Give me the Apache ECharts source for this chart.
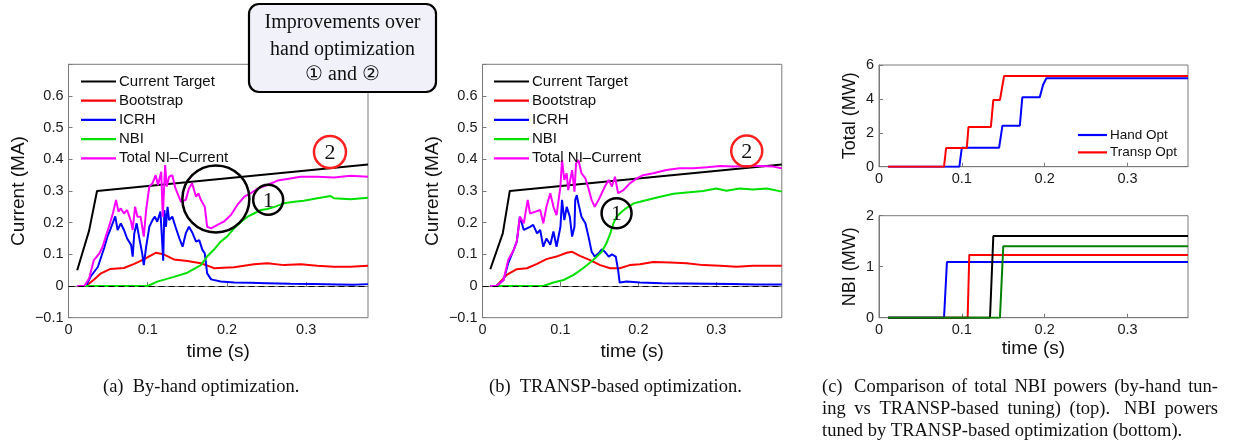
<!DOCTYPE html>
<html><head><meta charset="utf-8">
<script src="https://cdn.jsdelivr.net/npm/echarts@6/dist/echarts.min.js"></script>
<style>html,body{margin:0;padding:0;background:#fff}#c{width:1240px;height:442px}</style>
</head><body><div id="c"></div><script>
// ---------- Panel (a): by-hand optimization (time s, current MA) ----------
const aTarget = [[0.011,0.05],[0.026,0.175],[0.036,0.30],[0.378,0.384]];
const aBootstrap = [[0.011,0],[0.022,0],[0.032,0.02],[0.041,0.04],[0.053,0.054],[0.07,0.057],[0.083,0.07],[0.095,0.084],[0.11,0.105],[0.12,0.1],[0.133,0.084],[0.15,0.079],[0.167,0.072],[0.178,0.062],[0.184,0.056],[0.195,0.058],[0.209,0.059],[0.234,0.069],[0.251,0.072],[0.272,0.066],[0.293,0.069],[0.314,0.064],[0.335,0.061],[0.356,0.061],[0.378,0.064]];
const aICRH = [[0.011,0],[0.022,0],[0.028,0.03],[0.037,0.06],[0.041,0.09],[0.045,0.12],[0.049,0.155],[0.053,0.18],[0.059,0.22],[0.062,0.177],[0.066,0.198],[0.07,0.177],[0.074,0.15],[0.079,0.13],[0.081,0.093],[0.083,0.166],[0.086,0.198],[0.089,0.156],[0.093,0.103],[0.095,0.066],[0.098,0.124],[0.102,0.187],[0.106,0.208],[0.109,0.219],[0.112,0.203],[0.116,0.235],[0.118,0.15],[0.1195,0.08],[0.121,0.24],[0.123,0.187],[0.125,0.25],[0.127,0.208],[0.131,0.219],[0.135,0.187],[0.14,0.15],[0.144,0.124],[0.148,0.166],[0.152,0.187],[0.156,0.17],[0.161,0.14],[0.165,0.145],[0.169,0.114],[0.172,0.103],[0.175,0.04],[0.18,0.021],[0.192,0.014],[0.209,0.011],[0.23,0.01],[0.25,0.009],[0.28,0.007],[0.31,0.006],[0.34,0.005],[0.36,0.004],[0.378,0.006]];
const aNBI = [[0.011,0],[0.1,0],[0.112,0.014],[0.133,0.029],[0.15,0.042],[0.167,0.066],[0.175,0.093],[0.184,0.116],[0.192,0.14],[0.2,0.156],[0.209,0.182],[0.218,0.203],[0.226,0.219],[0.234,0.229],[0.243,0.24],[0.251,0.243],[0.26,0.25],[0.272,0.261],[0.285,0.266],[0.297,0.269],[0.314,0.277],[0.331,0.284],[0.335,0.277],[0.356,0.274],[0.378,0.279]];
const aTotal = [[0.011,0],[0.02,0],[0.026,0.024],[0.032,0.082],[0.039,0.103],[0.043,0.124],[0.047,0.156],[0.051,0.187],[0.056,0.229],[0.06,0.272],[0.063,0.235],[0.066,0.245],[0.07,0.229],[0.074,0.24],[0.079,0.203],[0.081,0.177],[0.084,0.25],[0.087,0.219],[0.091,0.219],[0.095,0.156],[0.098,0.24],[0.102,0.314],[0.106,0.324],[0.11,0.35],[0.113,0.319],[0.117,0.361],[0.119,0.219],[0.122,0.382],[0.124,0.314],[0.127,0.345],[0.131,0.35],[0.135,0.308],[0.142,0.266],[0.148,0.272],[0.152,0.308],[0.156,0.324],[0.161,0.282],[0.164,0.293],[0.167,0.272],[0.172,0.25],[0.175,0.187],[0.18,0.182],[0.188,0.193],[0.196,0.203],[0.205,0.224],[0.213,0.256],[0.222,0.282],[0.23,0.293],[0.239,0.308],[0.251,0.319],[0.264,0.333],[0.276,0.338],[0.293,0.345],[0.314,0.345],[0.335,0.343],[0.356,0.348],[0.378,0.345]];

// ---------- Panel (b): TRANSP-based optimization ----------
const bTarget = [[0.01,0.053],[0.026,0.166],[0.035,0.30],[0.384,0.384]];
const bBootstrap = [[0.01,0],[0.018,0],[0.031,0.035],[0.044,0.053],[0.057,0.056],[0.07,0.07],[0.082,0.085],[0.095,0.093],[0.108,0.105],[0.115,0.108],[0.125,0.095],[0.138,0.082],[0.151,0.066],[0.164,0.056],[0.176,0.056],[0.189,0.066],[0.202,0.069],[0.219,0.076],[0.241,0.074],[0.262,0.072],[0.283,0.066],[0.305,0.064],[0.326,0.061],[0.347,0.064],[0.384,0.064]];
const bICRH = [[0.01,0],[0.018,0],[0.027,0.019],[0.033,0.072],[0.04,0.114],[0.044,0.14],[0.048,0.219],[0.053,0.177],[0.057,0.182],[0.061,0.187],[0.065,0.193],[0.07,0.166],[0.074,0.177],[0.078,0.124],[0.082,0.15],[0.087,0.13],[0.091,0.172],[0.095,0.124],[0.1,0.187],[0.102,0.272],[0.105,0.208],[0.108,0.25],[0.112,0.219],[0.115,0.156],[0.118,0.187],[0.119,0.272],[0.121,0.287],[0.123,0.261],[0.127,0.219],[0.132,0.198],[0.136,0.156],[0.14,0.108],[0.144,0.093],[0.149,0.103],[0.153,0.116],[0.157,0.108],[0.162,0.093],[0.166,0.1],[0.171,0.093],[0.174,0.05],[0.176,0.011],[0.185,0.014],[0.202,0.011],[0.23,0.009],[0.26,0.008],[0.29,0.007],[0.32,0.006],[0.35,0.005],[0.384,0.005]];
const bNBI = [[0.01,0],[0.078,0],[0.091,0.011],[0.104,0.019],[0.117,0.035],[0.129,0.056],[0.142,0.082],[0.153,0.108],[0.159,0.135],[0.164,0.166],[0.168,0.198],[0.172,0.219],[0.179,0.235],[0.185,0.247],[0.194,0.261],[0.202,0.266],[0.215,0.274],[0.228,0.282],[0.245,0.291],[0.262,0.295],[0.283,0.3],[0.3,0.308],[0.313,0.301],[0.33,0.308],[0.347,0.305],[0.365,0.308],[0.384,0.298]];
const bTotal = [[0.01,0],[0.018,0],[0.027,0.019],[0.033,0.082],[0.04,0.114],[0.044,0.14],[0.048,0.219],[0.053,0.198],[0.058,0.272],[0.061,0.229],[0.068,0.235],[0.074,0.24],[0.078,0.198],[0.082,0.25],[0.087,0.293],[0.091,0.25],[0.095,0.224],[0.1,0.314],[0.102,0.398],[0.105,0.335],[0.108,0.356],[0.11,0.303],[0.115,0.366],[0.118,0.298],[0.12,0.387],[0.123,0.398],[0.127,0.356],[0.132,0.34],[0.136,0.308],[0.14,0.272],[0.144,0.25],[0.149,0.272],[0.153,0.293],[0.157,0.314],[0.162,0.335],[0.166,0.314],[0.17,0.345],[0.174,0.293],[0.181,0.303],[0.189,0.324],[0.198,0.34],[0.206,0.35],[0.219,0.356],[0.236,0.366],[0.253,0.372],[0.27,0.372],[0.288,0.375],[0.305,0.379],[0.322,0.377],[0.339,0.379],[0.356,0.379],[0.373,0.377],[0.384,0.372]];

// ---------- Panel (c) top: total NBI power (MW) ----------
const cHandOpt = [[0.011,0],[0.097,0],[0.1,1.12],[0.145,1.12],[0.149,2.42],[0.17,2.42],[0.173,4.09],[0.194,4.09],[0.198,4.82],[0.202,5.22],[0.373,5.22]];
const cTranspOpt = [[0.011,0],[0.0785,0],[0.081,1.1],[0.106,1.1],[0.108,2.34],[0.135,2.34],[0.138,3.94],[0.146,3.94],[0.151,5.35],[0.373,5.35]];
// ---------- Panel (c) bottom: individual NBI powers (MW) ----------
const cNbiBlue = [[0.011,0],[0.0785,0],[0.082,1.09],[0.373,1.09]];
const cNbiRed = [[0.011,0],[0.107,0],[0.109,1.23],[0.373,1.23]];
const cNbiBlack = [[0.011,0],[0.134,0],[0.138,1.6],[0.373,1.6]];
const cNbiGreen = [[0.011,0],[0.146,0],[0.15,1.4],[0.373,1.4]];

const legendNames = ['Current Target','Bootstrap','ICRH','NBI','Total NI\u2013Current'];
const xMax = [0.378, 0.384, 0.373, 0.373];
const captionA = '(a)  By-hand optimization.';
const captionB = '(b)  TRANSP-based optimization.';
const captionC = ['(c) Comparison of total NBI powers (by-hand tun-','ing vs TRANSP-based tuning) (top). NBI powers','tuned by TRANSP-based optimization (bottom).'];
const boxLines = ['Improvements over','hand optimization','\u2460 and \u2461'];

const SANS = 'Liberation Sans, Arial, Helvetica, sans-serif';
const SERIF = 'Liberation Serif, Times New Roman, serif';
const GRAY = '#7a7a7a';

const grids = [
  {left:68.5, top:64.3, width:299.5, height:253.4},
  {left:482.5, top:64.3, width:299.3, height:253.4},
  {left:879, top:65, width:309, height:101.7},
  {left:879, top:215.7, width:309, height:102}
].map(g => Object.assign({show:true, borderColor:GRAY, borderWidth:1, backgroundColor:'#fff'}, g));

function fmtX(v){
  const r = Math.round(v*10);
  if (Math.abs(v*10 - r) > 1e-6) return '';
  return r === 0 ? '0' : (r/10).toString();
}
function xAxis(i, showName, gap){
  return {type:'value', gridIndex:i, min:0, max:xMax[i], interval:0.1,
    name: showName ? 'time (s)' : '', nameLocation:'middle', nameGap:gap,
    nameTextStyle:{fontFamily:SANS, fontSize:19, color:'#111'},
    axisLine:{show:true, lineStyle:{color:GRAY}}, axisTick:{show:true, inside:true, length:4, lineStyle:{color:GRAY}},
    splitLine:{show:false},
    axisLabel:{fontFamily:SANS, fontSize:14.5, color:'#1a1a1a', margin:5, formatter:fmtX, showMaxLabel:false}};
}
function yAxis(i, name, min, max, interval, hideTop, gap){
  return {type:'value', gridIndex:i, min, max, interval,
    name, nameLocation:'middle', nameGap:gap, nameRotate:90,
    nameTextStyle:{fontFamily:SANS, fontSize:i<2?19:18, color:'#111'},
    axisLine:{show:true, lineStyle:{color:GRAY}}, axisTick:{show:true, inside:true, length:4, lineStyle:{color:GRAY}},
    splitLine:{show:false},
    axisLabel:{fontFamily:SANS, fontSize:14.5, color:'#1a1a1a', margin:5,
      formatter: v => {
        if (hideTop && Math.abs(v-max) < 1e-9) return '';
        const r = Math.round(v*10)/10;
        if (r === 0) return '0';
        return r < 0 ? '\u2212' + Math.abs(r) : String(r);
      }}};
}
function line(name, data, color, idx, extra){
  return Object.assign({type:'line', name, data, xAxisIndex:idx, yAxisIndex:idx,
    symbol:'none', showSymbol:false, smooth:false, animation:false,
    lineStyle:{color, width:2}, itemStyle:{color}, emphasis:{disabled:true}}, extra||{});
}
const zeroLine = {silent:true, symbol:['none','none'], label:{show:false},
  lineStyle:{color:'#000', type:[6,4], width:1.2}, data:[{yAxis:0}]};
function circ(coord, size, text, color){
  return {coord, symbol:'circle', symbolSize:size,
    itemStyle:{color:'rgba(0,0,0,0)', borderColor:color, borderWidth:2.5},
    label:{show:!!text, formatter:text||'', position:'inside', fontFamily:SERIF, fontSize:22, color:'#111', offset:[0,1]}};
}

const series = [
  line(legendNames[0], aTarget, '#000', 0),
  line(legendNames[1], aBootstrap, '#ff0000', 0),
  line(legendNames[2], aICRH, '#0000ff', 0),
  line(legendNames[3], aNBI, '#00e000', 0, {markLine:zeroLine}),
  line(legendNames[4], aTotal, '#ff00ff', 0, {markPoint:{silent:true, data:[
    circ([0.186,0.275], 67, '', '#000'),
    circ([0.252,0.272], 30, '1', '#000'),
    circ([0.33,0.423], 32, '2', '#ff2020')]}}),
  line(legendNames[0], bTarget, '#000', 1),
  line(legendNames[1], bBootstrap, '#ff0000', 1),
  line(legendNames[2], bICRH, '#0000ff', 1),
  line(legendNames[3], bNBI, '#00e000', 1, {markLine:zeroLine}),
  line(legendNames[4], bTotal, '#ff00ff', 1, {markPoint:{silent:true, data:[
    circ([0.172,0.23], 30, '1', '#000'),
    circ([0.339,0.426], 31, '2', '#ff2020')]}}),
  line('Hand Opt', cHandOpt, '#0000ff', 2),
  line('Transp Opt', cTranspOpt, '#ff0000', 2),
  line('nbi1', cNbiBlue, '#0000ff', 3),
  line('nbi2', cNbiRed, '#ff0000', 3),
  line('nbi3', cNbiBlack, '#000000', 3),
  line('nbi4', cNbiGreen, '#008000', 3)
];

function legend(left, top, data, iw, fs, gap){
  return {show:true, orient:'vertical', left, top, data, icon:'rect', itemWidth:iw, itemHeight:2.2, itemGap:gap,
    selectedMode:false, padding:0, backgroundColor:'rgba(0,0,0,0)',
    textStyle:{fontFamily:SANS, fontSize:fs, lineHeight:fs, color:'#111', padding:[0,0,0,-2]}};
}

// justified caption lines (text layout only)
const measureCtx = document.createElement('canvas').getContext('2d');
const capFont = '18.5px ' + SERIF;
measureCtx.font = capFont;
function justified(text, x0, width, y, justify){
  const words = text.split(' ');
  const ws = words.map(w => measureCtx.measureText(w).width);
  const space = measureCtx.measureText(' ').width;
  const weights = words.slice(0,-1).map(w => (w === '(c)' || /\.$/.test(w)) ? 1.6 : 1);
  const totalW = weights.reduce((a,b)=>a+b,0);
  const sum = ws.reduce((a,b)=>a+b,0);
  const unit = justify ? (width - sum)/totalW : space;
  let x = x0; const out = [];
  words.forEach((w,i) => {
    out.push({type:'text', x, y, style:{text:w, font:capFont, fill:'#111', textVerticalAlign:'middle'}});
    x += ws[i] + (i < weights.length ? unit*(justify ? weights[i] : weights[i]) : 0);
  });
  return out;
}

const graphic = [
  {type:'rect', z:100, shape:{x:249, y:4, width:187, height:88, r:10},
    style:{fill:'#f1f1fa', stroke:'#000', lineWidth:2.2}},
  ...boxLines.map((t,i) => ({type:'text', z:101, x:342.5, y:[23,50,75][i],
    style:{text:t, font:'20px ' + SERIF, fill:'#111', textAlign:'center', textVerticalAlign:'middle'}})),
  {type:'text', x:103, y:387, style:{text:captionA, font:capFont, fill:'#111', textVerticalAlign:'middle'}},
  {type:'text', x:489, y:387, style:{text:captionB, font:capFont, fill:'#111', textVerticalAlign:'middle'}},
  ...justified(captionC[0], 822, 396, 387, true),
  ...justified(captionC[1], 822, 396, 409, true),
  ...justified(captionC[2], 822, 396, 431, false)
];

const chart = echarts.init(document.getElementById('c'), null, {renderer:'canvas'});
chart.setOption({
  animation:false,
  backgroundColor:'#fff',
  grid: grids,
  xAxis: [xAxis(0,true,15), xAxis(1,true,15), xAxis(2,false,15), xAxis(3,true,22)],
  yAxis: [yAxis(0,'Current (MA)',-0.1,0.7,0.1,true,40), yAxis(1,'Current (MA)',-0.1,0.7,0.1,true,40),
          yAxis(2,'Total (MW)',0,6,2,false,20), yAxis(3,'NBI (MW)',0,2,1,false,20)],
  legend: [
    legend(81, 74, legendNames, 35, 15, 4.2),
    legend(494, 74, legendNames.slice(), 35, 15, 4.2),
    legend(1078, 128, ['Hand Opt','Transp Opt'], 29, 13.5, 3.4)
  ],
  series,
  graphic
});
</script></body></html>
